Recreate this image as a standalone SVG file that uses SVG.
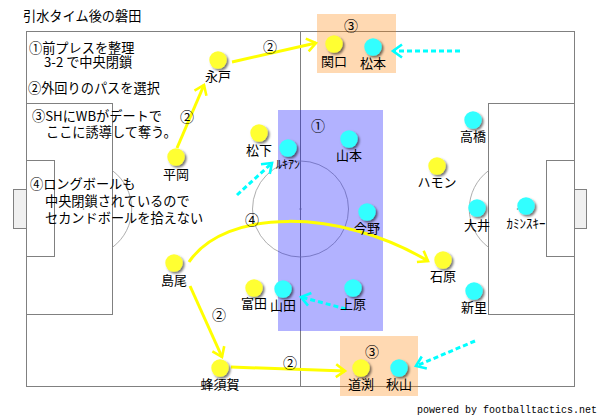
<svg xmlns="http://www.w3.org/2000/svg" width="600" height="417" viewBox="0 0 600 417">
<style>
.ln{fill:none;stroke:#808080;stroke-width:1}
.arc{fill:none;stroke:#999;stroke-width:0.8}
.t{font-family:"Noto Sans CJK JP","Liberation Sans",sans-serif;font-size:13.2px;fill:#000}
.lb{font-family:"Noto Sans CJK JP","Liberation Sans",sans-serif;font-size:13px;fill:#000;text-anchor:middle}
.num{font-family:"Noto Sans CJK JP","Liberation Sans",sans-serif;font-size:14px;fill:#000;text-anchor:middle}
.y{fill:#ffff33;filter:url(#sh)}
.c{fill:#33ffff;filter:url(#sh)}
.ya{fill:none;stroke:#ffff00;stroke-width:3;marker-end:url(#ay)}
.ca{fill:none;stroke:#00ffff;stroke-width:3;stroke-dasharray:5,3;marker-end:url(#ac)}
</style>
<defs>
<filter id="sh" x="-50%" y="-50%" width="200%" height="200%">
<feDropShadow dx="1.8" dy="1.8" stdDeviation="1.2" flood-color="#000" flood-opacity="0.55"/>
</filter>
<marker id="ay" markerUnits="userSpaceOnUse" markerWidth="16" markerHeight="16" refX="12" refY="8" orient="auto" overflow="visible">
<path d="M3,1.5 L12,8 L3,14.5" fill="none" stroke="#ffff00" stroke-width="2.6"/>
</marker>
<marker id="ac" markerUnits="userSpaceOnUse" markerWidth="16" markerHeight="16" refX="12" refY="8" orient="auto" overflow="visible">
<path d="M3,1.5 L12,8 L3,14.5" fill="none" stroke="#00ffff" stroke-width="2.6"/>
</marker>
</defs>
<rect width="600" height="417" fill="#fff"/>
<g id="field">
<rect class="ln" x="26.5" y="31.5" width="548" height="355"/>
<line class="ln" x1="300.5" y1="31.5" x2="300.5" y2="386.5"/>
<rect class="ln" x="26.5" y="103.5" width="86" height="211"/>
<rect class="ln" x="488.5" y="103.5" width="86" height="211"/>
<rect class="ln" x="26.5" y="160.5" width="28" height="96"/>
<rect class="ln" x="546.5" y="160.5" width="28" height="96"/>
<rect x="13.5" y="189.5" width="13" height="39" fill="#f0f0f0" stroke="#808080"/>
<rect x="574.5" y="189.5" width="12" height="39" fill="#f0f0f0" stroke="#808080"/>
<circle class="arc" cx="300.5" cy="209" r="48"/>
<path class="arc" d="M112.5,170.7 A47.8,47.8 0 0 1 112.5,247.3"/>
<path class="arc" d="M488.5,170.7 A47.8,47.8 0 0 0 488.5,247.3"/>
<circle cx="300.5" cy="209" r="1" fill="#808080"/>
<circle cx="83.5" cy="209" r="0.8" fill="#808080"/>
<circle cx="517.5" cy="209" r="0.8" fill="#808080"/>
</g>
<g id="zones">
<rect x="278" y="110" width="105" height="221" fill="#0000ff" fill-opacity="0.3"/>
<rect x="317" y="14" width="79" height="59" fill="#ff8000" fill-opacity="0.3"/>
<rect x="340" y="336" width="78" height="60" fill="#ff8000" fill-opacity="0.3"/>
</g>
<g id="connectors">
<path class="ya" d="M177,148 L204,85"/>
<path class="ya" d="M232,62 L316,43"/>
<path class="ya" d="M190,286 L222,357"/>
<path class="ya" d="M231,367 L345,371"/>
<path class="ya" d="M189,262 C225,208 340,208 428,261"/>
<path class="ca" d="M460,51 L393,51"/>
<path class="ca" d="M237,195 L272,163"/>
<path class="ca" d="M346,309 L301,297"/>
<path class="ca" d="M475,341 L416,366"/>
</g>
<g id="labels">
<text class="num" x="270" y="52">②</text>
<text class="num" x="187" y="122">②</text>
<text class="num" x="351" y="31">③</text>
<text class="num" x="318" y="131">①</text>
<text class="num" x="252" y="225">④</text>
<text class="num" x="219" y="320">②</text>
<text class="num" x="290" y="368">②</text>
<text class="num" x="372" y="357">③</text>
</g>
<g id="notes">
<text class="t" x="23" y="21">引水タイム後の磐田</text>
<text class="t" x="29" y="52.5">①前プレスを整理</text>
<text class="t" x="44" y="67">3-2 で中央閉鎖</text>
<text class="t" x="28" y="93">②外回りのパスを選択</text>
<text class="t" x="32" y="120.5">③SHにWBがデートで</text>
<text class="t" x="46" y="137">ここに誘導して奪う。</text>
<text class="t" x="30" y="188.5">④ロングボールも</text>
<text class="t" x="45" y="206">中央閉鎖されているので</text>
<text class="t" x="45" y="223">セカンドボールを拾えない</text>
</g>
<g id="p-nagato"><circle class="y" cx="218" cy="60" r="8.7"/><text class="lb" x="218" y="81">永戸</text></g>
<g id="p-sekiguchi"><circle class="y" cx="334" cy="44" r="8.7"/><text class="lb" x="334" y="66">関口</text></g>
<g id="p-matsumoto"><circle class="c" cx="373" cy="47" r="8.7"/><text class="lb" x="373" y="68">松本</text></g>
<g id="p-hiraoka"><circle class="y" cx="176" cy="157" r="8.7"/><text class="lb" x="176" y="179">平岡</text></g>
<g id="p-matsushita"><circle class="y" cx="259" cy="133" r="8.7"/><text class="lb" x="259" y="155">松下</text></g>
<g id="p-lukian"><circle class="c" cx="288" cy="148" r="8.7"/><text class="lb" x="288" y="169" style="font-size:12px">ﾙｷｱﾝ</text></g>
<g id="p-yamamoto"><circle class="c" cx="349" cy="139" r="8.7"/><text class="lb" x="349" y="160">山本</text></g>
<g id="p-konno"><circle class="c" cx="367" cy="212" r="8.7"/><text class="lb" x="367" y="233">今野</text></g>
<g id="p-hamon"><circle class="y" cx="437" cy="166" r="8.7"/><text class="lb" x="437" y="187">ハモン</text></g>
<g id="p-takahashi"><circle class="c" cx="473" cy="120" r="8.7"/><text class="lb" x="473" y="141">高橋</text></g>
<g id="p-oi"><circle class="c" cx="477" cy="208" r="8.7"/><text class="lb" x="477" y="230">大井</text></g>
<g id="p-kaminski"><circle class="c" cx="526" cy="206" r="8.7"/><text class="lb" x="526" y="228" style="font-size:13px">ｶﾐﾝｽｷｰ</text></g>
<g id="p-ishihara"><circle class="y" cx="443" cy="260" r="8.7"/><text class="lb" x="443" y="281">石原</text></g>
<g id="p-shinzato"><circle class="c" cx="474" cy="291" r="8.7"/><text class="lb" x="474" y="312">新里</text></g>
<g id="p-shimao"><circle class="y" cx="174" cy="263" r="8.7"/><text class="lb" x="174" y="285">島尾</text></g>
<g id="p-tomita"><circle class="y" cx="254" cy="288" r="8.7"/><text class="lb" x="254" y="308">富田</text></g>
<g id="p-yamada"><circle class="c" cx="283" cy="289" r="8.7"/><text class="lb" x="283" y="310">山田</text></g>
<g id="p-uehara"><circle class="c" cx="353" cy="288" r="8.7"/><text class="lb" x="353" y="309">上原</text></g>
<g id="p-hachisuka"><circle class="y" cx="220" cy="368" r="8.7"/><text class="lb" x="220" y="389">蜂須賀</text></g>
<g id="p-michibuchi"><circle class="y" cx="361" cy="368" r="8.7"/><text class="lb" x="361" y="389">道渕</text></g>
<g id="p-akiyama"><circle class="c" cx="399" cy="368" r="8.7"/><text class="lb" x="399" y="389">秋山</text></g>
<text x="597" y="413" text-anchor="end" font-family="'Liberation Mono','DejaVu Sans Mono',monospace" font-size="10" fill="#000">powered by footballtactics.net</text>
</svg>
